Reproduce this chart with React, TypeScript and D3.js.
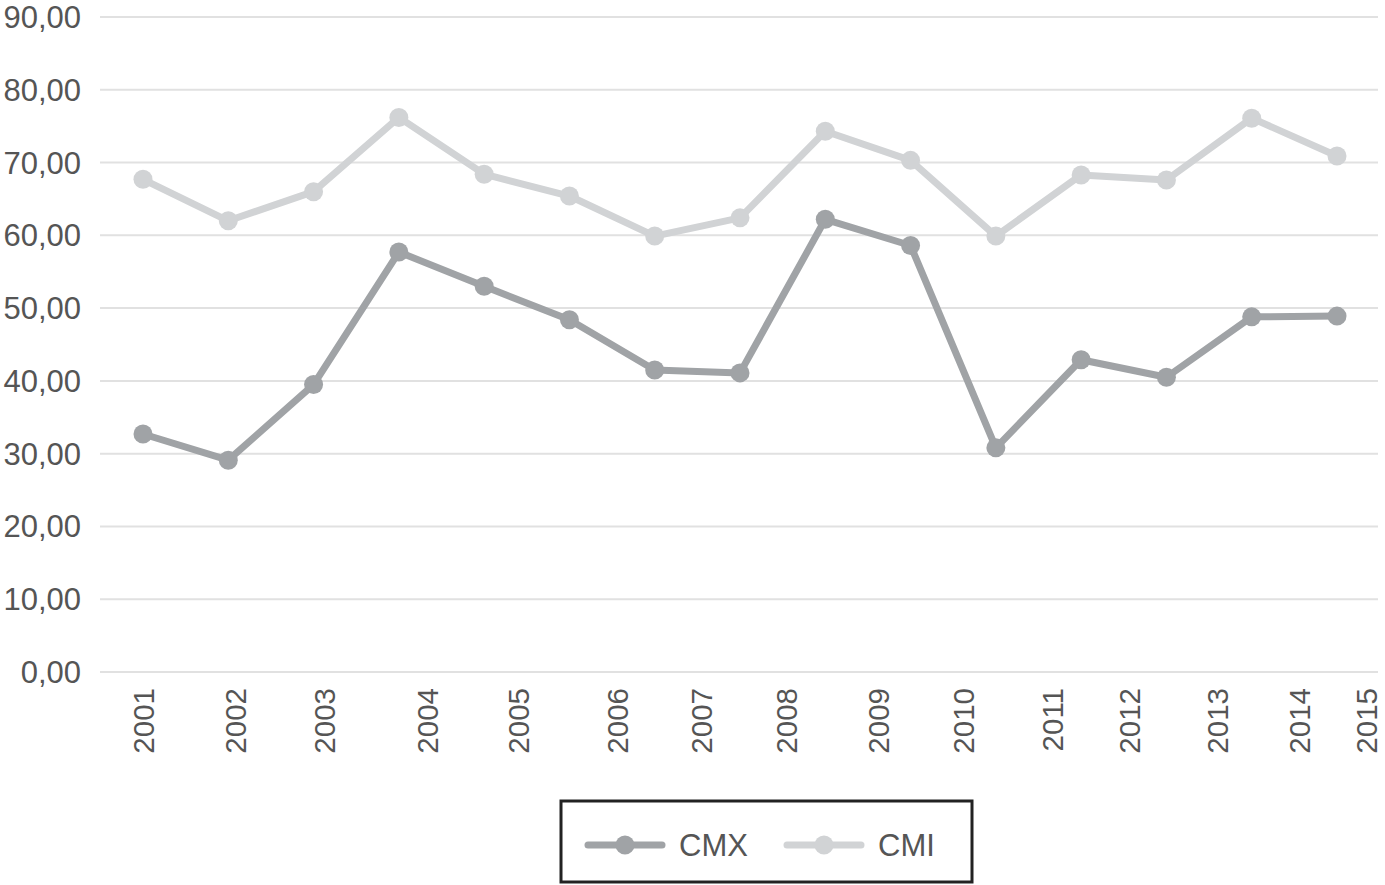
import React from "react";
import * as d3 from "d3";

const years = ["2001","2002","2003","2004","2005","2006","2007","2008","2009","2010","2011","2012","2013","2014","2015"];
const cmx = [32.7, 29.1, 39.5, 57.7, 53.0, 48.4, 41.5, 41.1, 62.2, 58.6, 30.8, 42.9, 40.5, 48.8, 48.9];
const cmi = [67.7, 62.0, 66.0, 76.2, 68.4, 65.4, 59.9, 62.4, 74.3, 70.3, 59.9, 68.3, 67.6, 76.1, 70.9];
// tick label positions along the category axis (in category-index units), as placed in the source
const tickPos = [0, 1.08, 2.13, 3.33, 4.4, 5.56, 6.55, 7.54, 8.62, 9.62, 10.66, 11.57, 12.6, 13.56, 14.35];
const yTicks = [0, 10, 20, 30, 40, 50, 60, 70, 80, 90];

const series = [
  { name: "CMX", values: cmx, color: "#a0a3a6" },
  { name: "CMI", values: cmi, color: "#d1d3d5" },
];

const W = 1385, H = 885;
const FONT = "'Liberation Sans', Arial, Helvetica, sans-serif";
const TEXT = "#555555";

export default function App() {
  const x = d3.scaleLinear().domain([0, years.length - 1]).range([143, 1337]);
  const y = d3.scaleLinear().domain([0, 90]).range([672, 17]);
  const line = d3.line<number>().x((_, i) => x(i)).y((v) => y(v));
  const fmt = (v: number) => d3.format(".2f")(v).replace(".", ",");

  return (
    <div style={{ position: "absolute", left: 0, top: 0 }}>
      <svg width={W} height={H} style={{ display: "block", background: "#fff" }}>
        <rect width={W} height={H} fill="#fff" />
        {yTicks.map((t) => (
          <g key={t}>
            <line x1={100} x2={1378} y1={y(t)} y2={y(t)} stroke="#e1e1e1" strokeWidth={2} />
            <text x={81} y={y(t) + 11} textAnchor="end" fontSize={31} fontFamily={FONT} fill={TEXT}>
              {fmt(t)}
            </text>
          </g>
        ))}
        {years.map((yr, i) => (
          <text
            key={yr}
            transform={`translate(${x(tickPos[i])},688) rotate(-90)`}
            textAnchor="end"
            dominantBaseline="central"
            fontSize={29.5}
            fontFamily={FONT}
            fill={TEXT}
          >
            {yr}
          </text>
        ))}
        {series.map((s) => (
          <g key={s.name}>
            <path d={line(s.values) || ""} fill="none" stroke={s.color} strokeWidth={7} strokeLinejoin="round" />
            {s.values.map((v, i) => (
              <circle key={i} cx={x(i)} cy={y(v)} r={9.5} fill={s.color} />
            ))}
          </g>
        ))}
        <rect x={561} y={801} width={411} height={81} fill="#fff" stroke="#222" strokeWidth={3} />
        {series.map((s, i) => {
          const lx = 588 + i * 199;
          return (
            <g key={s.name}>
              <line x1={lx} x2={lx + 74} y1={845} y2={845} stroke={s.color} strokeWidth={7} strokeLinecap="round" />
              <circle cx={lx + 37} cy={845} r={9.5} fill={s.color} />
              <text x={lx + 91} y={856} fontSize={31} fontFamily={FONT} fill={TEXT}>
                {s.name}
              </text>
            </g>
          );
        })}
      </svg>
    </div>
  );
}
